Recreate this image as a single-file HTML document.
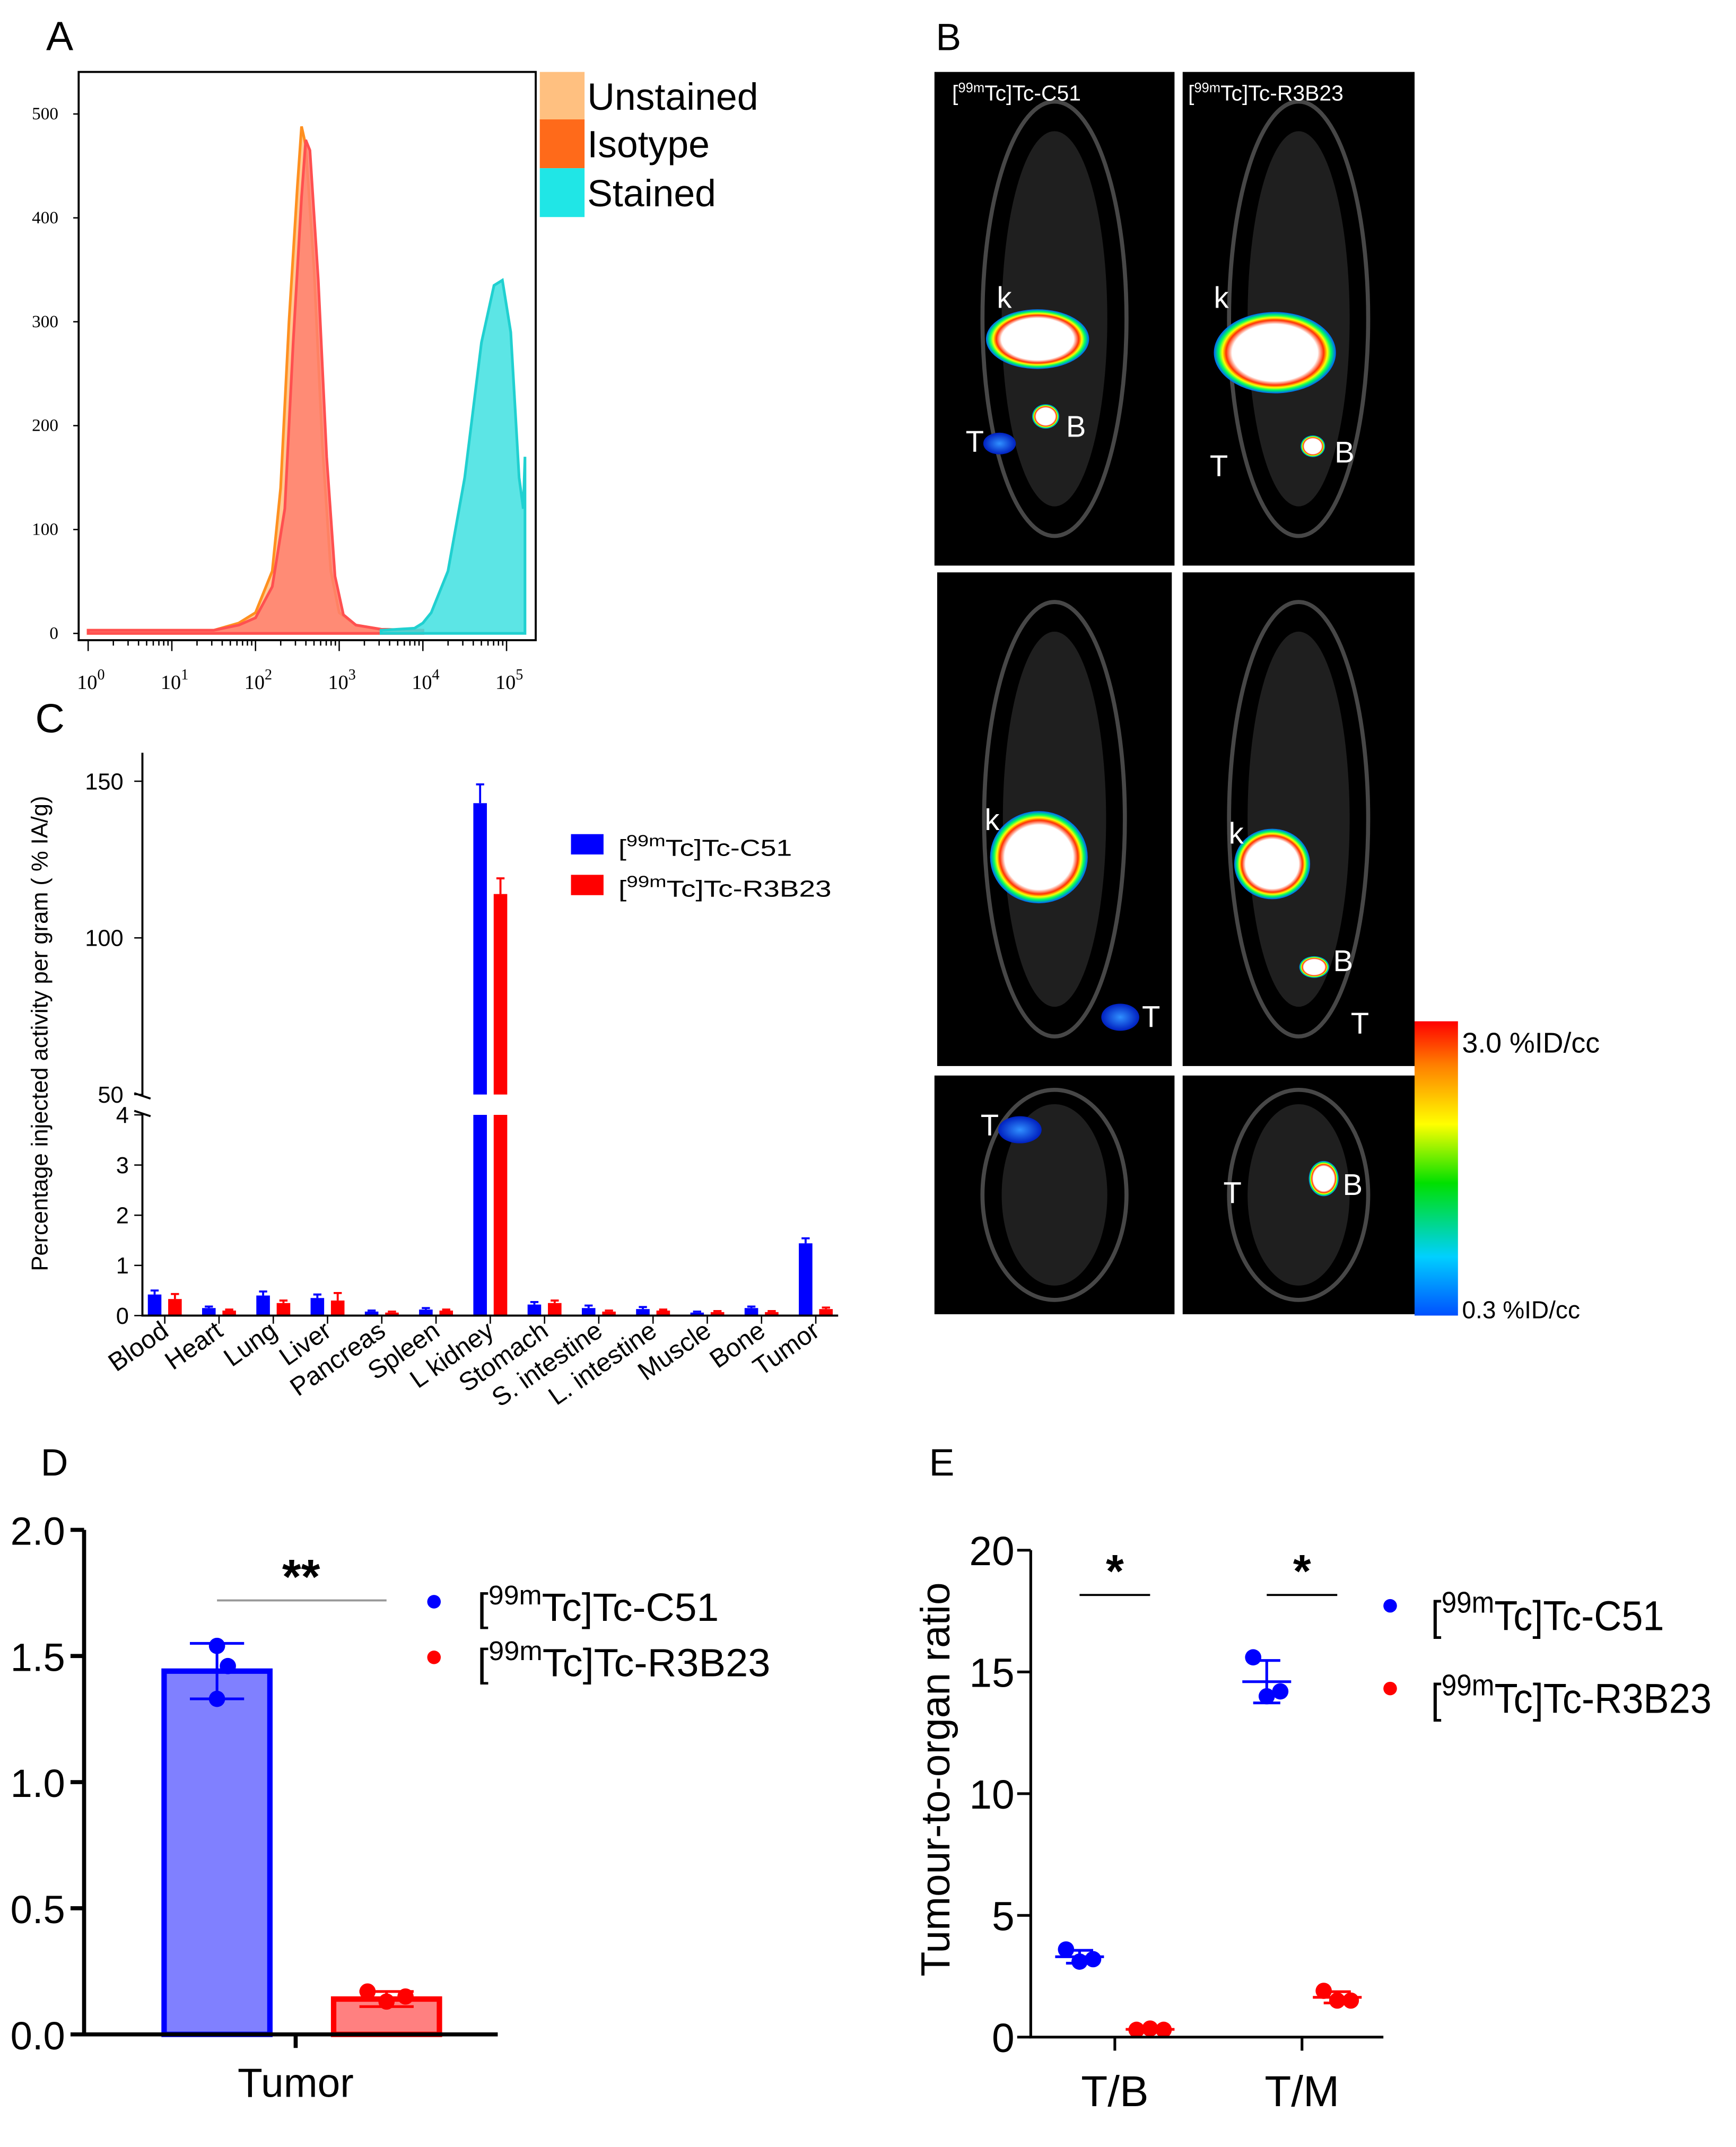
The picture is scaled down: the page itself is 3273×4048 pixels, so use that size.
<!DOCTYPE html>
<html><head><meta charset="utf-8"><style>
html,body{margin:0;padding:0;background:#fff}
svg{display:block;font-family:"Liberation Sans",sans-serif}
</style></head><body>
<svg id="fig" width="3273" height="4048" viewBox="0 0 1280 1583" xmlns="http://www.w3.org/2000/svg">
<defs>
<linearGradient id="cbar" x1="0" y1="1" x2="0" y2="0">
<stop offset="0" stop-color="#0050ff"/><stop offset="0.2" stop-color="#00d0ff"/><stop offset="0.45" stop-color="#00e000"/><stop offset="0.65" stop-color="#ffff00"/><stop offset="0.85" stop-color="#ff8000"/><stop offset="1" stop-color="#ff0000"/>
</linearGradient>
<radialGradient id="blob"><stop offset="0.7" stop-color="#fff"/><stop offset="0.8" stop-color="#ff3000"/><stop offset="0.86" stop-color="#ffff00"/><stop offset="0.92" stop-color="#00ff60"/><stop offset="1" stop-color="#0060ff"/></radialGradient>
<radialGradient id="blue"><stop offset="0" stop-color="#3090ff"/><stop offset="1" stop-color="#0020c0"/></radialGradient>
</defs>
<g id="panelA"></g>
<g id="panelB"></g>
<g id="panelC"></g>
<g id="panelD"></g>
<g id="panelE"></g>
</svg>
<script>
// Panel A data
const aTicksY=[0,100,200,300,400,500];
const aDecades=[0,1,2,3,4,5];
const unstainedX=[0,1,1.5,1.8,2.0,2.2,2.3,2.4,2.5,2.55,2.6,2.7,2.8,2.9,3.0,3.2,3.5,4];
const unstainedY=[3,3,3,10,20,60,140,300,430,488,470,350,180,60,20,8,4,3];
const isotypeX=[0,1,1.5,1.8,2.0,2.2,2.35,2.45,2.55,2.6,2.65,2.75,2.85,2.95,3.05,3.2,3.5,4];
const isotypeY=[3,3,3,8,15,45,120,280,420,475,465,340,170,55,18,8,4,3];
const stainedX=[3.5,3.9,4.0,4.1,4.3,4.5,4.7,4.85,4.95,5.05,5.15,5.2,5.22];
const stainedY=[3,5,10,20,60,150,280,335,340,290,150,120,170];
// Panel C data
const cCats=["Blood","Heart","Lung","Liver","Pancreas","Spleen","L kidney","Stomach","S. intestine","L. intestine","Muscle","Bone","Tumor"];
const cC51=[0.42,0.15,0.4,0.35,0.08,0.12,143,0.22,0.15,0.13,0.06,0.15,1.44];
const cC51Err=[0.08,0.03,0.08,0.07,0.02,0.03,6,0.05,0.05,0.04,0.02,0.03,0.1];
const cR3=[0.33,0.1,0.25,0.3,0.06,0.1,114,0.25,0.08,0.1,0.07,0.07,0.13];
const cR3Err=[0.1,0.02,0.05,0.15,0.02,0.02,5,0.05,0.02,0.02,0.02,0.02,0.03];
const cLowTicks=[0,1,2,3,4];
const cHighTicks=[50,100,150];
// Panel D data
const dTicks=[0,0.5,1.0,1.5,2.0];
const dMeans=[1.44,0.14];
const dPtsC51=[1.54,1.46,1.33];
const dPtsR3=[0.17,0.13,0.15];
const dErr=[0.11,0.03];
// Panel E data
const eTicks=[0,5,10,15,20];
const eCats=["T/B","T/M"];
const eC51=[[3.6,3.1,3.2],[15.6,14.0,14.2]];
const eR3=[[0.3,0.35,0.3],[1.9,1.5,1.5]];

const NS="http://www.w3.org/2000/svg";
function mk(parent,tag,attrs,text){const e=document.createElementNS(NS,tag);for(const k in attrs)e.setAttribute(k,attrs[k]);if(text!==undefined)e.textContent=text;parent.appendChild(e);return e;}

// ---------- Panel A ----------
(function(){
const g=document.getElementById('panelA');
const ax=v=>65+61.7*v, ay=v=>467-v*0.766;
let t=mk(g,'text',{x:34,y:37,'font-size':30},'A');


function area(xs,ys,fill,stroke,name){
  let d='M'+ax(xs[0])+','+ay(0);
  xs.forEach((x,i)=>{d+=' L'+ax(x)+','+ay(ys[i]);});
  d+=' L'+ax(xs[xs.length-1])+','+ay(0)+' Z';
  const p=mk(g,'path',{d:d,fill:fill,stroke:stroke,'stroke-width':2,'fill-opacity':0.85});
  
  
}
area(unstainedX,unstainedY,'#ffc080','#ff9020','unstained-histogram');
area(isotypeX,isotypeY,'#ff8070','#ff5050','isotype-histogram');
area(stainedX,stainedY,'#40e0e0','#20d0d0','stained-histogram');
const box=mk(g,'rect',{x:58,y:53,width:337,height:419,fill:'none',stroke:'#000','stroke-width':1.5});


aTicksY.forEach(v=>{
  const l=mk(g,'line',{x1:54,x2:58,y1:ay(v),y2:ay(v),stroke:'#000'});
  
  
  const tx=mk(g,'text',{x:43,y:ay(v)+4,'font-size':13,'text-anchor':'end','font-family':'Liberation Serif'},String(v));
  
  
});
aDecades.forEach(d=>{
  const l=mk(g,'line',{x1:ax(d),x2:ax(d),y1:472,y2:480,stroke:'#000'});
  
  
  if(d<5){for(let k=2;k<10;k++){const m=mk(g,'line',{x1:ax(d+Math.log10(k)),x2:ax(d+Math.log10(k)),y1:472,y2:476,stroke:'#000'});}}
  const tx=mk(g,'text',{x:ax(d)+2,y:508,'font-size':15,'text-anchor':'middle','font-family':'Liberation Serif'});
  
  
  tx.innerHTML='10<tspan dy="-7" font-size="11">'+d+'</tspan>';
});
const leg=[['#ffc080','Unstained',53],['#ff6a1a','Isotype',88],['#20e6e6','Stained',124]];
leg.forEach(([c,s,y])=>{
  const r=mk(g,'rect',{x:398,y:y,width:33,height:36,fill:c});
  
  
  const tx=mk(g,'text',{x:433,y:y+28,'font-size':28},s);
  
  
});
})();

// ---------- Panel B ----------
(function(){
const g=document.getElementById('panelB');
let t=mk(g,'text',{x:690,y:37,'font-size':28},'B');

const panes=[[689,53,177,364],[872,53,171,364],[691,422,173,364],[872,422,171,364],[689,793,177,176],[872,793,171,176]];
panes.forEach((p,i)=>{
  const r=mk(g,'rect',{x:p[0],y:p[1],width:p[2],height:p[3],fill:'#000'});
  
  
  const cx=p[0]+p[2]/2, cy=p[1]+p[3]/2;
  const body=mk(g,'ellipse',{cx:cx,cy:cy,rx:p[2]*0.3,ry:p[3]*0.44,fill:'none',stroke:'#777','stroke-width':3,opacity:0.6});
  
  
  const sk=mk(g,'ellipse',{cx:cx,cy:cy,rx:p[2]*0.22,ry:p[3]*0.38,fill:'#333',opacity:0.6});
  
  
});
const blobs=[[765,250,38,22,'url(#blob)'],[940,260,45,30,'url(#blob)'],[771,307,10,9,'url(#blob)'],[968,329,9,8,'url(#blob)'],[766,632,36,34,'url(#blob)'],[938,637,28,26,'url(#blob)'],[969,713,11,8,'url(#blob)'],[976,869,11,13,'url(#blob)'],[737,327,12,8,'url(#blue)'],[826,750,14,10,'url(#blue)'],[752,833,16,10,'url(#blue)']];
blobs.forEach(b=>{
  const e=mk(g,'ellipse',{cx:b[0],cy:b[1],rx:b[2],ry:b[3],fill:b[4]});
  
  
});
const labs=[[735,227,'k'],[895,227,'k'],[786,322,'B'],[712,333,'T'],[984,341,'B'],[892,351,'T'],[726,612,'k'],[906,622,'k'],[983,716,'B'],[842,757,'T'],[996,762,'T'],[723,837,'T'],[902,887,'T'],[990,881,'B']];
labs.forEach(l=>{
  const tx=mk(g,'text',{x:l[0],y:l[1],'font-size':22,fill:'#fff'},l[2]);
  
  
});
[[702,74,'C51'],[876,74,'R3B23']].forEach(l=>{
  const tx=mk(g,'text',{x:l[0],y:l[1],'font-size':16,fill:'#fff'});
  
  
  tx.innerHTML='[<tspan dy="-6" font-size="10">99m</tspan><tspan dy="6">Tc]Tc-'+l[2]+'</tspan>';
});
const cb=mk(g,'rect',{x:1043,y:753,width:32,height:217,fill:'url(#cbar)'});

let c1=mk(g,'text',{x:1078,y:776,'font-size':21},'3.0 %ID/cc');

let c2=mk(g,'text',{x:1078,y:972,'font-size':18},'0.3 %ID/cc');

})();

// ---------- Panel C ----------
(function(){
const g=document.getElementById('panelC');
const x0=105, x1=618;
const gx=i=>121.5+40*i;
const yLow=v=>970-37*v;
const yHigh=v=>807-(v-50)*2.31;
let t=mk(g,'text',{x:26,y:540,'font-size':30},'C');

function bar(i,v,e,off,color,name){
  const bx=gx(i)+off-5;
  if(v<=4){
    const r=mk(g,'rect',{x:bx,y:yLow(v),width:10,height:970-yLow(v),fill:color});
    
    const l=mk(g,'path',{d:`M${bx+5},${yLow(v)} V${yLow(v+e)} M${bx+2},${yLow(v+e)} H${bx+8}`,stroke:color,'stroke-width':1.5,fill:'none'});
    
  } else {
    const r=mk(g,'rect',{x:bx,y:yLow(4),width:10,height:970-yLow(4),fill:color});
    
    const r2=mk(g,'rect',{x:bx,y:yHigh(v),width:10,height:807-yHigh(v),fill:color});
    
    const l=mk(g,'path',{d:`M${bx+5},${yHigh(v)} V${yHigh(v+e)} M${bx+2},${yHigh(v+e)} H${bx+8}`,stroke:color,'stroke-width':1.5,fill:'none'});
    
  }
}
cCats.forEach((c,i)=>{
  bar(i,cC51[i],cC51Err[i],-7.5,'#0000ff','bar-c51');
  bar(i,cR3[i],cR3Err[i],7.5,'#ff0000','bar-r3b23');
  const tk=mk(g,'line',{x1:gx(i),x2:gx(i),y1:970,y2:976,stroke:'#000'});
  
  const tx=mk(g,'text',{x:gx(i)+4,y:984,'font-size':19,'text-anchor':'end',transform:`rotate(-35 ${gx(i)+4} 984)`},c);
  
});
const ax=mk(g,'path',{d:`M${x0},555 V808 M${x0},821 V970 H${x1} M${x0-6},806 L${x0+6},810 M${x0-6},819 L${x0+6},823`,stroke:'#000','stroke-width':1.5,fill:'none'});

cLowTicks.forEach(v=>{
  const l=mk(g,'line',{x1:x0-6,x2:x0,y1:yLow(v),y2:yLow(v),stroke:'#000'});
  
  const tx=mk(g,'text',{x:x0-10,y:yLow(v)+6,'font-size':17,'text-anchor':'end'},String(v));
  
});
cHighTicks.forEach(v=>{
  const l=mk(g,'line',{x1:x0-6,x2:x0,y1:yHigh(v),y2:yHigh(v),stroke:'#000'});
  
  const tx=mk(g,'text',{x:x0-14,y:yHigh(v)+6,'font-size':17,'text-anchor':'end'},String(v));
  
});
const yt=mk(g,'text',{x:35,y:762,'font-size':17,'text-anchor':'middle',transform:'rotate(-90 35 762)'},'Percentage injected activity per gram ( % IA/g)');

[['#0000ff','C51',615,128],['#ff0000','R3B23',645,157]].forEach(([c,s,y,w])=>{
  const r=mk(g,'rect',{x:421,y:y,width:24,height:15,fill:c});
  
  const tx=mk(g,'text',{x:456,y:y+16,'font-size':17,textLength:w,lengthAdjust:'spacingAndGlyphs'});
  
  tx.innerHTML='[<tspan dy="-7" font-size="12">99m</tspan><tspan dy="7">Tc]Tc-'+s+'</tspan>';
});
})();

// ---------- Panel D ----------
(function(){
const g=document.getElementById('panelD');
const y=v=>1500-186*v;
const bx=[160,285];
let t=mk(g,'text',{x:30,y:1088,'font-size':28},'D');

const cols=[['#8080ff','#0000ff'],['#ff8080','#ff0000']];
dMeans.forEach((m,i)=>{
  const r=mk(g,'rect',{x:bx[i]-39,y:y(m),width:78,height:1500-y(m),fill:cols[i][0],stroke:cols[i][1],'stroke-width':4});
  
  const e=mk(g,'path',{d:`M${bx[i]},${y(m-dErr[i])} V${y(m+dErr[i])} M${bx[i]-20},${y(m+dErr[i])} H${bx[i]+20} M${bx[i]-20},${y(m-dErr[i])} H${bx[i]+20} M${bx[i]-25},${y(m)} H${bx[i]+25}`,stroke:cols[i][1],'stroke-width':2,fill:'none'});
  
});
dPtsC51.forEach((v,i)=>{const c=mk(g,'circle',{cx:bx[0]+(i==1?8:0),cy:y(v),r:6,fill:'#0000ff'});});
dPtsR3.forEach((v,i)=>{const c=mk(g,'circle',{cx:bx[1]-14+14*i,cy:y(v),r:6,fill:'#ff0000'});});
const ax=mk(g,'path',{d:'M62,1128 V1500 H367 M218,1500 V1510',stroke:'#000','stroke-width':3,fill:'none'});

dTicks.forEach(v=>{
  const l=mk(g,'line',{x1:52,x2:62,y1:y(v),y2:y(v),stroke:'#000','stroke-width':3});
  
  const tx=mk(g,'text',{x:48,y:y(v)+11,'font-size':29,'text-anchor':'end'},v.toFixed(1));
  
});
const xl=mk(g,'text',{x:218,y:1546,'font-size':30,'text-anchor':'middle'},'Tumor');

const sl=mk(g,'line',{x1:160,x2:285,y1:1180,y2:1180,stroke:'#999','stroke-width':1.5});

const st=mk(g,'text',{x:222,y:1175,'font-size':36,'font-weight':'bold','text-anchor':'middle'},'**');

[['#0000ff','C51',1181,178],['#ff0000','R3B23',1222,216]].forEach(([c,s,yy,w])=>{
  const d=mk(g,'circle',{cx:320,cy:yy,r:5,fill:c});
  
  const tx=mk(g,'text',{x:352,y:yy+14,'font-size':29,textLength:w,lengthAdjust:'spacingAndGlyphs'});
  
  tx.innerHTML='[<tspan dy="-12" font-size="20">99m</tspan><tspan dy="12">Tc]Tc-'+s+'</tspan>';
});
})();

// ---------- Panel E ----------
(function(){
const g=document.getElementById('panelE');
const y=v=>1502-17.95*v;
const cx=[822,960];
let t=mk(g,'text',{x:685,y:1088,'font-size':28},'E');

const mean=a=>a.reduce((s,v)=>s+v,0)/a.length;
function group(pts,c0,col,name){
  const m=mean(pts), sd=Math.sqrt(pts.reduce((s,v)=>s+(v-m)*(v-m),0)/(pts.length-1));
  const e=mk(g,'path',{d:`M${c0},${y(m-sd)} V${y(m+sd)} M${c0-10},${y(m+sd)} H${c0+10} M${c0-10},${y(m-sd)} H${c0+10} M${c0-18},${y(m)} H${c0+18}`,stroke:col,'stroke-width':2,fill:'none'});
  
  pts.forEach((v,i)=>{const c=mk(g,'circle',{cx:c0-10+10*i,cy:y(v),r:6,fill:col});});
}
eCats.forEach((c,i)=>{
  group(eC51[i],cx[i]-26,'#0000ff','point-c51');
  group(eR3[i],cx[i]+26,'#ff0000','point-r3b23');
  const tk=mk(g,'line',{x1:cx[i],x2:cx[i],y1:1502,y2:1512,stroke:'#000','stroke-width':2});
  
  const tx=mk(g,'text',{x:cx[i],y:1553,'font-size':32,'text-anchor':'middle'},c);
  
  const sl=mk(g,'line',{x1:cx[i]-26,x2:cx[i]+26,y1:1176,y2:1176,stroke:'#000','stroke-width':1.5});
  
  const st=mk(g,'text',{x:cx[i],y:1170,'font-size':34,'font-weight':'bold','text-anchor':'middle'},'*');
  
});
const ax=mk(g,'path',{d:'M760,1143 V1502 H1020',stroke:'#000','stroke-width':2,fill:'none'});

eTicks.forEach(v=>{
  const l=mk(g,'line',{x1:750,x2:760,y1:y(v),y2:y(v),stroke:'#000','stroke-width':2});
  
  const tx=mk(g,'text',{x:748,y:y(v)+11,'font-size':30,'text-anchor':'end'},String(v));
  
});
const yt=mk(g,'text',{x:700,y:1312,'font-size':30,'text-anchor':'middle',transform:'rotate(-90 700 1312)'},'Tumour-to-organ ratio');

[['#0000ff','C51',1184,172],['#ff0000','R3B23',1245,207]].forEach(([c,s,yy,w])=>{
  const d=mk(g,'circle',{cx:1025,cy:yy,r:5,fill:c});
  
  const tx=mk(g,'text',{x:1055,y:yy+18,'font-size':31,textLength:w,lengthAdjust:'spacingAndGlyphs'});
  
  tx.innerHTML='[<tspan dy="-13" font-size="22">99m</tspan><tspan dy="13">Tc]Tc-'+s+'</tspan>';
});
})();
</script>
</body></html>
